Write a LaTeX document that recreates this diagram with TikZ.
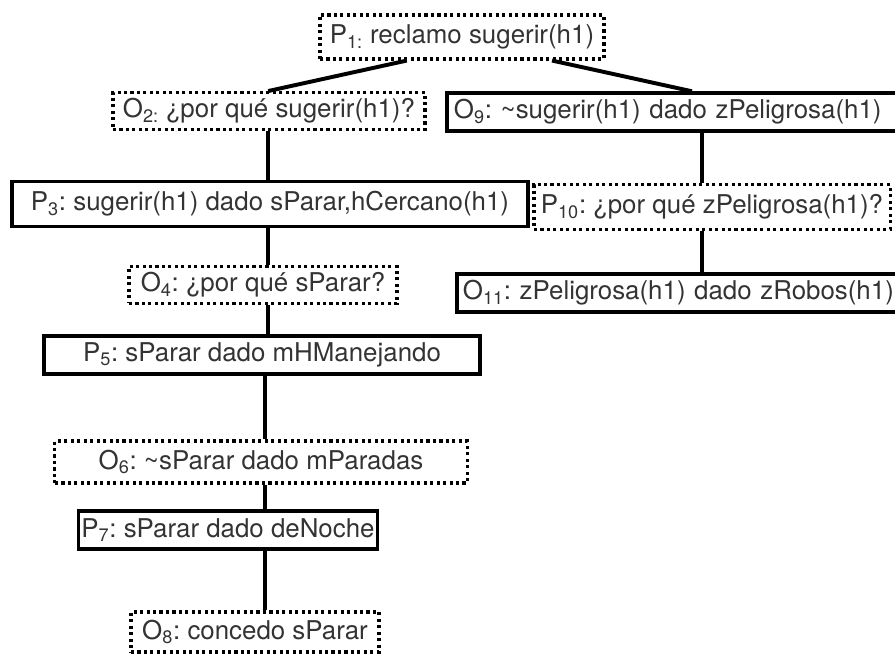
\documentclass[tikz,border=0pt]{standalone}
\usepackage{fontspec}
\setmainfont{TeX Gyre Heros}
\usetikzlibrary{positioning}
\tikzstyle{dotbox} = [rectangle, minimum height=0.92cm, inner sep=2pt, text centered,
draw=black, line width=2.2pt, dash pattern=on 2.2pt off 2.4pt, text=black!80,
font=\fontsize{18.4}{21}\selectfont\frenchspacing]
\tikzstyle{solidbox} = [rectangle, minimum height=0.95cm, inner sep=2pt, text centered,
draw=black, line width=2.4pt, text=black!80, font=\fontsize{18.4}{21}\selectfont\frenchspacing]
\tikzstyle{line} = [line width=2.8pt]

\begin{document}
\begin{tikzpicture}[x=0.025cm,y=-0.025cm]
\useasboundingbox (0,0) rectangle (895,656);
\node (p1)[dotbox, minimum width=7.1cm, minimum height=1.1cm] at (462,37) {P\textsubscript{1:} reclamo sugerir(h1)};
\node (o2)[dotbox, minimum width=7.8cm] at (269,111) {O\textsubscript{2:} ¿por qué sugerir(h1)?};
\node (o9)[solidbox, minimum width=11.45cm, text width=11.1cm, align=left] at (676,112) {O\textsubscript{9}: \textasciitilde sugerir(h1) dado zPeligrosa(h1)};
\node (p3)[solidbox, minimum width=12.9cm, minimum height=1.12cm] at (270,204) {P\textsubscript{3}: sugerir(h1) dado sParar,hCercano(h1)};
\node (p10)[dotbox, minimum width=8.9cm, minimum height=1.12cm] at (712,207) {P\textsubscript{10}: ¿por qué zPeligrosa(h1)?};
\node (o4)[dotbox, minimum width=6.7cm] at (263,285) {O\textsubscript{4}: ¿por qué sParar?};
\node (o11)[solidbox, minimum width=11.2cm, text width=10.9cm, align=left] at (681,293) {O\textsubscript{11}: zPeligrosa(h1) dado zRobos(h1)};
\node (p5)[solidbox, minimum width=10.9cm] at (262,355) {P\textsubscript{5}: sParar dado mHManejando};
\node (o6)[dotbox, minimum width=10.3cm, minimum height=1.05cm] at (261,462) {O\textsubscript{6}: \textasciitilde sParar dado mParadas};
\node (p7)[solidbox, minimum width=7.1cm] at (228,530) {P\textsubscript{7}: sParar dado deNoche};
\node (o8)[dotbox, minimum width=6.2cm, minimum height=1cm] at (255,632) {O\textsubscript{8}: concedo sParar};

\draw [line]([xshift=-1.38cm]p1.south) -- ([xshift=-0.02cm]o2.north);
\draw [line]([xshift=2.25cm]p1.south) -- ([xshift=0.4cm]o9.north);
\draw [line]([xshift=-0.02cm]o2.south) -- ([xshift=-0.02cm]o2.south |- p3.north);
\draw [line]([xshift=-0.05cm]p3.south) -- ([xshift=-0.05cm]p3.south |- o4.north);
\draw [line]([xshift=0.12cm]o4.south) -- ([xshift=0.12cm]o4.south |- p5.north);
\draw [line]([xshift=0.08cm]p5.south) -- ([xshift=0.08cm]p5.south |- o6.north);
\draw [line]([xshift=0.1cm]o6.south) -- ([xshift=0.1cm]o6.south |- p7.north);
\draw [line]([xshift=0.1cm]o6.south |- p7.south) -- ([xshift=0.1cm]o6.south |- o8.north);
\draw [line]([xshift=0.65cm]o9.south) -- ([xshift=0.65cm]o9.south |- p10.north);
\draw [line]([xshift=-0.25cm]p10.south) -- ([xshift=-0.25cm]p10.south |- o11.north);
\end{tikzpicture}
\end{document}
